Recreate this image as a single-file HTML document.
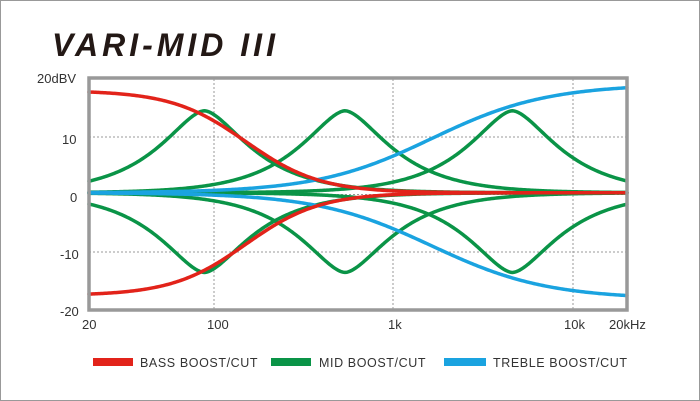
<!DOCTYPE html>
<html><head><meta charset="utf-8"><style>
html,body{margin:0;padding:0;background:#fff}
svg{display:block}
text{font-family:"Liberation Sans",sans-serif;fill:#333}
</style></head><body>
<svg id="s" width="700" height="401" xmlns="http://www.w3.org/2000/svg">
<rect x="0.5" y="0.5" width="699" height="400" fill="#fff" stroke="#999"/>
<text x="52" y="56" style="font-size:32px;font-weight:bold;font-style:italic;fill:#231815;letter-spacing:4px">VARI-MID III</text>
<text x="37" y="83" font-size="13">20dBV</text>
<text x="62" y="144" font-size="13">10</text>
<text x="70" y="202" font-size="13">0</text>
<text x="60" y="259" font-size="13">-10</text>
<text x="60" y="316" font-size="13">-20</text>
<text x="82" y="329" font-size="13">20</text>
<text x="207" y="329" font-size="13">100</text>
<text x="388" y="329" font-size="13">1k</text>
<text x="564" y="329" font-size="13">10k</text>
<text x="609" y="329" font-size="13">20kHz</text>
<g stroke="#999" stroke-width="1" stroke-dasharray="2,2">
<line x1="214" y1="79" x2="214" y2="310"/>
<line x1="393" y1="79" x2="393" y2="310"/>
<line x1="573" y1="79" x2="573" y2="310"/>
<line x1="89" y1="137" x2="627" y2="137"/>
<line x1="89" y1="194.5" x2="627" y2="194.5"/>
<line x1="89" y1="252" x2="627" y2="252"/>
</g>
<g id="curves" fill="none" stroke-width="3.5" stroke-linecap="round"></g>
<rect x="89" y="78" width="538" height="232" fill="none" stroke="#999" stroke-width="3.5"/>
<rect x="93" y="358" width="40" height="8" fill="#e2231a"/>
<text x="140" y="367" font-size="12.5" letter-spacing="0.6">BASS BOOST/CUT</text>
<rect x="271" y="358" width="40" height="8" fill="#0a9447"/>
<text x="319" y="367" font-size="12.5" letter-spacing="0.6">MID BOOST/CUT</text>
<rect x="444" y="358" width="42" height="8" fill="#1aa3e0"/>
<text x="493" y="367" font-size="12.5" letter-spacing="0.6">TREBLE BOOST/CUT</text>
</svg>
<script>
(function(){
var g=document.getElementById('curves');
function X(f){return 89+Math.log10(f/20)*179.3;}
function Y(d){return 194.5-d*5.775;}
function path(fn,col){
 var d='';for(var i=0;i<=400;i++){var f=20*Math.pow(1000,i/400);var v=fn(f)+0.3;
 d+=(i?'L':'M')+X(f).toFixed(2)+','+Y(v).toFixed(2);}
 var p=document.createElementNS('http://www.w3.org/2000/svg','path');
 p.setAttribute('d',d);p.setAttribute('stroke',col);g.appendChild(p);}
function bass(G){return function(f){return G/(1+Math.pow(f/150,2.1));};}
function treb(G){return function(f){return G/(1+Math.pow(1633/f,1.35));};}
function mid(G,f0){return function(f){var x=Math.abs(0.6*(f/f0-f0/f));return G/(1+1.28*Math.pow(x,1.7));};}
var gr='#0a9447';
[88,536,4600].forEach(function(f0){path(mid(14.2,f0),gr);path(mid(-13.8,f0),gr);});
path(treb(18.8),'#1aa3e0');path(treb(-18.4),'#1aa3e0');
path(bass(17.7),'#e2231a');path(bass(-17.8),'#e2231a');
})();
</script>
</body></html>
